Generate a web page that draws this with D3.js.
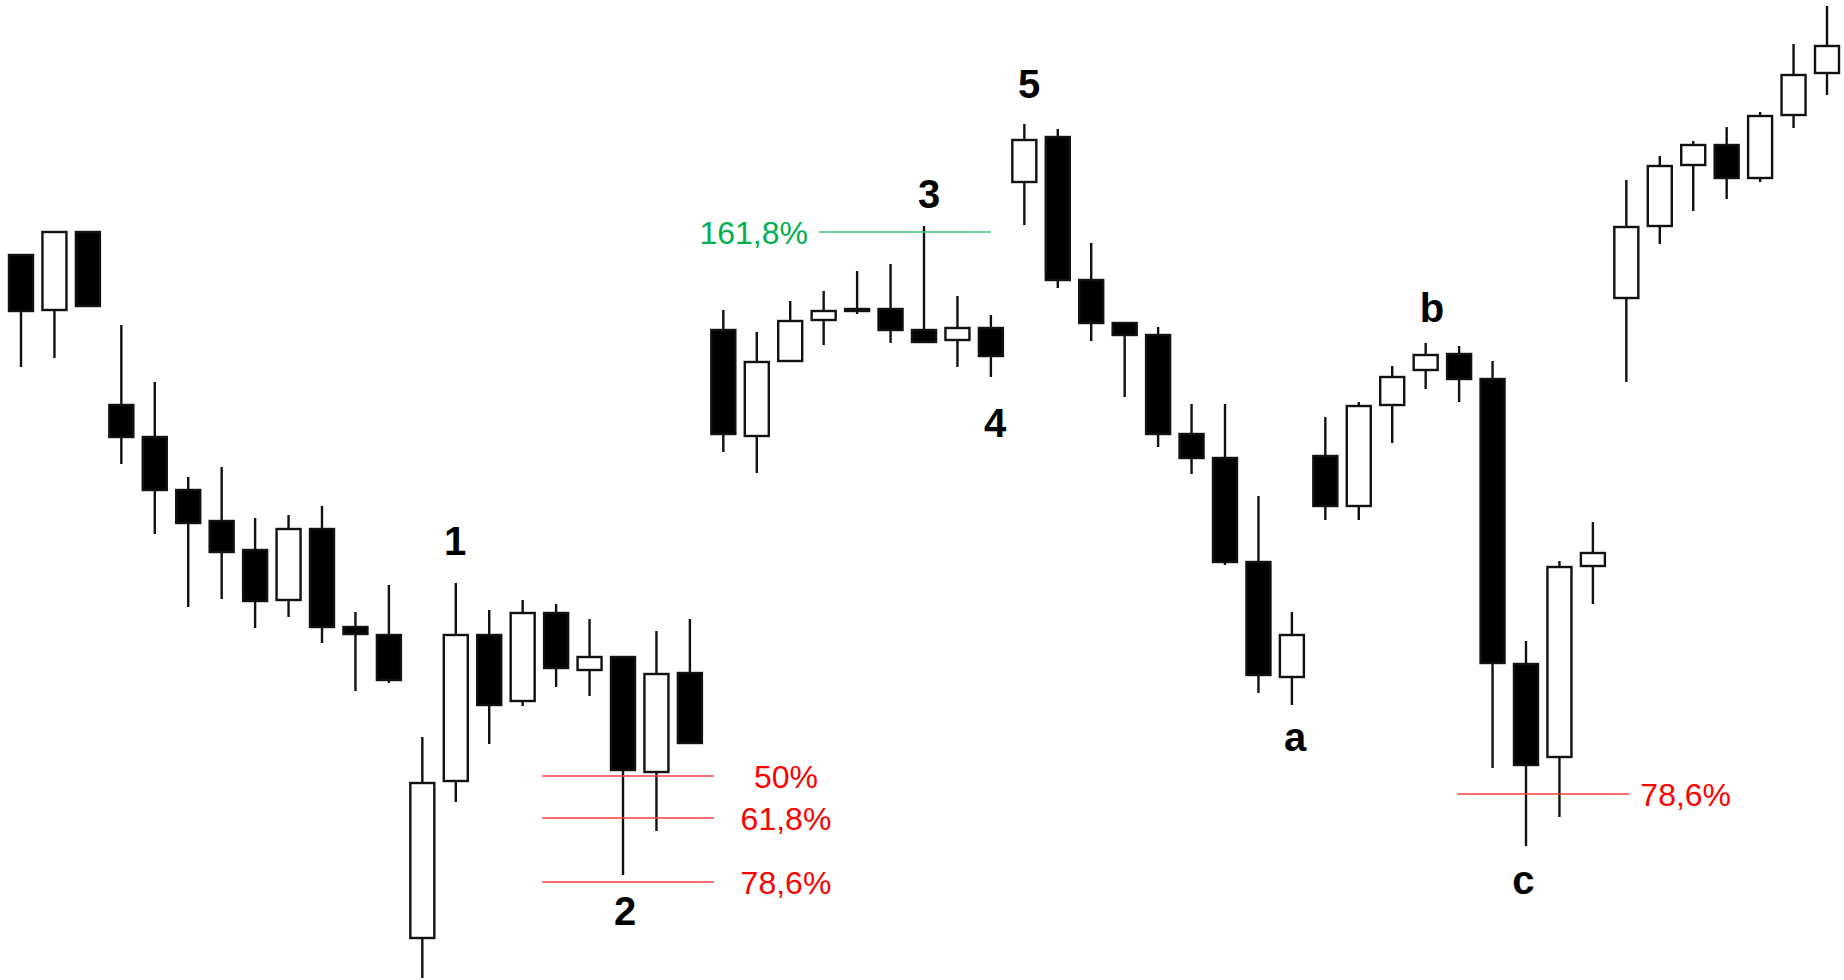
<!DOCTYPE html>
<html>
<head>
<meta charset="utf-8">
<script src="https://cdn.jsdelivr.net/npm/d3@7"></script>
<style>
  html, body { margin: 0; padding: 0; background: #ffffff; }
  svg { display: block; }
</style>
</head>
<body>
<svg id="chart" width="1844" height="980"></svg>
<script>
// ---- DATA (price units) ----
const opens  = [746,689,769,596,564,511,480,451,399,472,374,366, 61,218,366,298,388,329,344,227,328,
                671,563,638,679,692,692,671,659,673,817,864,721,678,666,567,543,439,322,
                545,493,594,629,647,622,337,242,433,701,773,834,856,821,884,926];
const highs  = [746,769,769,675,618,523,533,482,485,494,388,415,263,417,390,400,396,381,344,369,381,
                690,668,699,709,729,736,774,704,685,876,871,757,678,673,596,596,504,388,
                583,598,634,657,654,639,359,439,478,820,844,859,873,888,956,994];
const lows   = [633,642,693,536,466,393,401,372,383,357,309,317, 22,198,256,294,313,304,125,169,256,
                548,527,638,655,686,657,657,633,623,775,712,659,603,553,526,435,307,295,
                480,480,557,611,598,232,154,183,396,618,756,789,801,818,872,905];
const closes = [688,769,693,562,509,476,447,398,472,372,365,319,218,366,294,388,331,344,229,327,256,
                565,639,680,690,688,669,657,673,643,861,719,676,664,565,541,437,324,366,
                493,595,624,646,620,336,234,434,448,774,835,856,821,885,926,955];

const waveLabels   = ["1","2","3","4","5","a","b","c"];
const waveIndex    = [12.98,18.06,27.15,29.13,30.14,38.10,42.19,44.92];
const waveBaseline = [445,75,792,563,902,249,678,106];

const fibLeftLabels = ["50%","61,8%","78,6%"];
const fibLeftLevels = [224,182,118];
const fibLeftSpan   = [15.58,20.72];

const fibGreenLabel = "161,8%";
const fibGreenLevel = 768;
const fibGreenSpan  = [23.86,29.0];

const fibRightLabel = "78,6%";
const fibRightLevel = 206;
const fibRightSpan  = [42.94,48.09];

// ---- SCALES ----
const x = d3.scaleLinear().domain([0, opens.length - 1]).range([21, 1827]);
const y = d3.scaleLinear().domain([20, 1000]).range([980, 0]);

const svg = d3.select("#chart");
const candles = opens.map((o, i) => ({i, o, h: highs[i], l: lows[i], c: closes[i]}));

const bodyW = 24;
const font = "Liberation Sans, Arial, sans-serif";

// wicks
svg.append("g").selectAll("line").data(candles).join("line")
  .attr("x1", d => x(d.i)).attr("x2", d => x(d.i))
  .attr("y1", d => y(d.h)).attr("y2", d => y(d.l))
  .attr("stroke", "#111").attr("stroke-width", 2.4);

// bodies
svg.append("g").selectAll("rect").data(candles).join("rect")
  .attr("x", d => x(d.i) - bodyW / 2)
  .attr("width", bodyW)
  .attr("y", d => y(Math.max(d.o, d.c)) + 1)
  .attr("height", d => Math.max(0.5, y(Math.min(d.o, d.c)) - y(Math.max(d.o, d.c)) - 2))
  .attr("fill", d => d.c < d.o ? "#000" : "#fff")
  .attr("stroke", "#111").attr("stroke-width", 2.4);

// left fib lines
const fibRed = "#ff4040", textRed = "#ff0000";
const gL = svg.append("g");
gL.selectAll("line").data(fibLeftLevels).join("line")
  .attr("x1", x(fibLeftSpan[0])).attr("x2", x(fibLeftSpan[1]))
  .attr("y1", d => y(d)).attr("y2", d => y(d))
  .attr("stroke", fibRed).attr("stroke-width", 1.5);
gL.selectAll("text").data(fibLeftLevels).join("text")
  .attr("x", x(fibLeftSpan[1]) + 72).attr("y", d => y(d)).attr("dy", "0.36em")
  .attr("text-anchor", "middle")
  .attr("font-family", font).attr("font-size", 32)
  .attr("fill", textRed)
  .text((d, k) => fibLeftLabels[k]);

// green fib
svg.append("line")
  .attr("x1", x(fibGreenSpan[0])).attr("x2", x(fibGreenSpan[1]))
  .attr("y1", y(fibGreenLevel)).attr("y2", y(fibGreenLevel))
  .attr("stroke", "#3cbf78").attr("stroke-width", 1.5);
svg.append("text")
  .attr("x", x(fibGreenSpan[0]) - 11).attr("y", y(fibGreenLevel)).attr("dy", "0.36em")
  .attr("text-anchor", "end")
  .attr("font-family", font).attr("font-size", 32)
  .attr("fill", "#00b050").text(fibGreenLabel);

// right fib
svg.append("line")
  .attr("x1", x(fibRightSpan[0])).attr("x2", x(fibRightSpan[1]))
  .attr("y1", y(fibRightLevel)).attr("y2", y(fibRightLevel))
  .attr("stroke", fibRed).attr("stroke-width", 1.5);
svg.append("text")
  .attr("x", x(fibRightSpan[1]) + 11).attr("y", y(fibRightLevel)).attr("dy", "0.36em")
  .attr("text-anchor", "start")
  .attr("font-family", font).attr("font-size", 32)
  .attr("fill", textRed).text(fibRightLabel);

// wave labels
svg.append("g").selectAll("text").data(waveLabels).join("text")
  .attr("x", (d, k) => x(waveIndex[k]))
  .attr("y", (d, k) => y(waveBaseline[k]))
  .attr("text-anchor", "middle")
  .attr("font-family", font)
  .attr("font-weight", "bold").attr("font-size", 40)
  .attr("fill", "#000")
  .text(d => d);
</script>
</body>
</html>
